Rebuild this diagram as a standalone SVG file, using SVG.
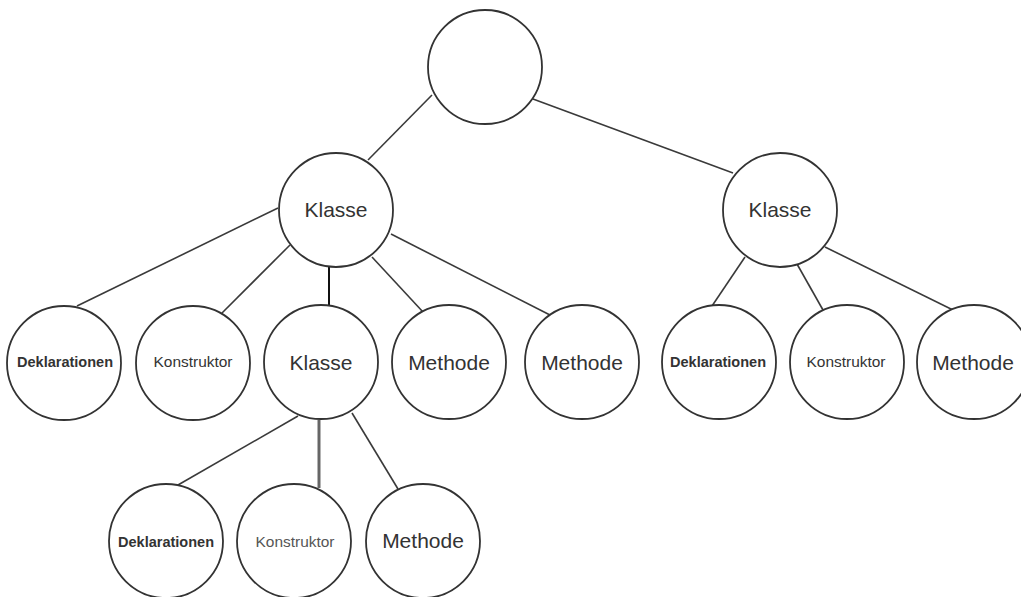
<svg xmlns="http://www.w3.org/2000/svg" width="1021" height="597" viewBox="0 0 1021 597">
<style>
.n{fill:#fff;stroke:#333;stroke-width:1.8}
.e{stroke:#3a3a3a;stroke-width:1.6;fill:none}
.t{font-family:"Liberation Sans",Arial,sans-serif;fill:#333;text-anchor:middle}
.big{font-size:21px}
.kon{font-size:15px}
.dek{font-size:14px;font-weight:bold}
</style>
<rect width="1021" height="597" fill="#fff"/>
<g id="connectors">
<line class="e" x1="432" y1="95" x2="368" y2="160"/>
<line class="e" x1="533" y1="99" x2="733" y2="173"/>
<line class="e" x1="278" y1="208" x2="77" y2="306"/>
<line class="e" x1="290" y1="245" x2="222" y2="313"/>
<line class="e" x1="329" y1="267" x2="329" y2="307" style="stroke:#111;stroke-width:2"/>
<line class="e" x1="372" y1="257" x2="423" y2="312"/>
<line class="e" x1="391" y1="234" x2="550" y2="315"/>
<line class="e" x1="745" y1="257" x2="712" y2="306"/>
<line class="e" x1="797" y1="264" x2="823" y2="310"/>
<line class="e" x1="825" y1="247" x2="953" y2="310"/>
<line class="e" x1="298" y1="416" x2="178" y2="485"/>
<line class="e" x1="319" y1="420" x2="319" y2="488" style="stroke:#666;stroke-width:3"/>
<line class="e" x1="352" y1="413" x2="398" y2="489"/>
</g>
<g id="root"><circle class="n" cx="485" cy="67" r="57"/></g>
<g id="klasse1"><circle class="n" cx="336" cy="210" r="57"/><text class="t big" x="336" y="217">Klasse</text></g>
<g id="klasse2"><circle class="n" cx="780" cy="210" r="57"/><text class="t big" x="780" y="217">Klasse</text></g>
<g id="dekl1"><circle class="n" cx="64" cy="363" r="57"/><text class="t dek" x="65" y="367" textLength="96" lengthAdjust="spacingAndGlyphs">Deklarationen</text></g>
<g id="konst1"><circle class="n" cx="193" cy="363" r="57"/><text class="t kon" x="193" y="367" textLength="79" lengthAdjust="spacingAndGlyphs">Konstruktor</text></g>
<g id="klasse3"><circle class="n" cx="321" cy="362" r="57"/><text class="t big" x="321" y="370">Klasse</text></g>
<g id="methode1"><circle class="n" cx="449" cy="362" r="57"/><text class="t big" x="449" y="370">Methode</text></g>
<g id="methode2"><circle class="n" cx="582" cy="362" r="57"/><text class="t big" x="582" y="370">Methode</text></g>
<g id="dekl2"><circle class="n" cx="719" cy="362" r="57"/><text class="t dek" x="718" y="367" textLength="96" lengthAdjust="spacingAndGlyphs">Deklarationen</text></g>
<g id="konst2"><circle class="n" cx="847" cy="362" r="57"/><text class="t kon" x="846" y="367" textLength="79" lengthAdjust="spacingAndGlyphs">Konstruktor</text></g>
<g id="methode3"><circle class="n" cx="974" cy="362" r="57"/><text class="t big" x="973" y="370">Methode</text></g>
<g id="dekl3"><circle class="n" cx="166" cy="541" r="57"/><text class="t dek" x="166" y="547" textLength="96" lengthAdjust="spacingAndGlyphs">Deklarationen</text></g>
<g id="konst3"><circle class="n" cx="294" cy="541" r="57"/><text class="t kon" x="295" y="547" textLength="79" lengthAdjust="spacingAndGlyphs" style="fill:#555">Konstruktor</text></g>
<g id="methode4"><circle class="n" cx="423" cy="541" r="57"/><text class="t big" x="423" y="548">Methode</text></g>
</svg>
